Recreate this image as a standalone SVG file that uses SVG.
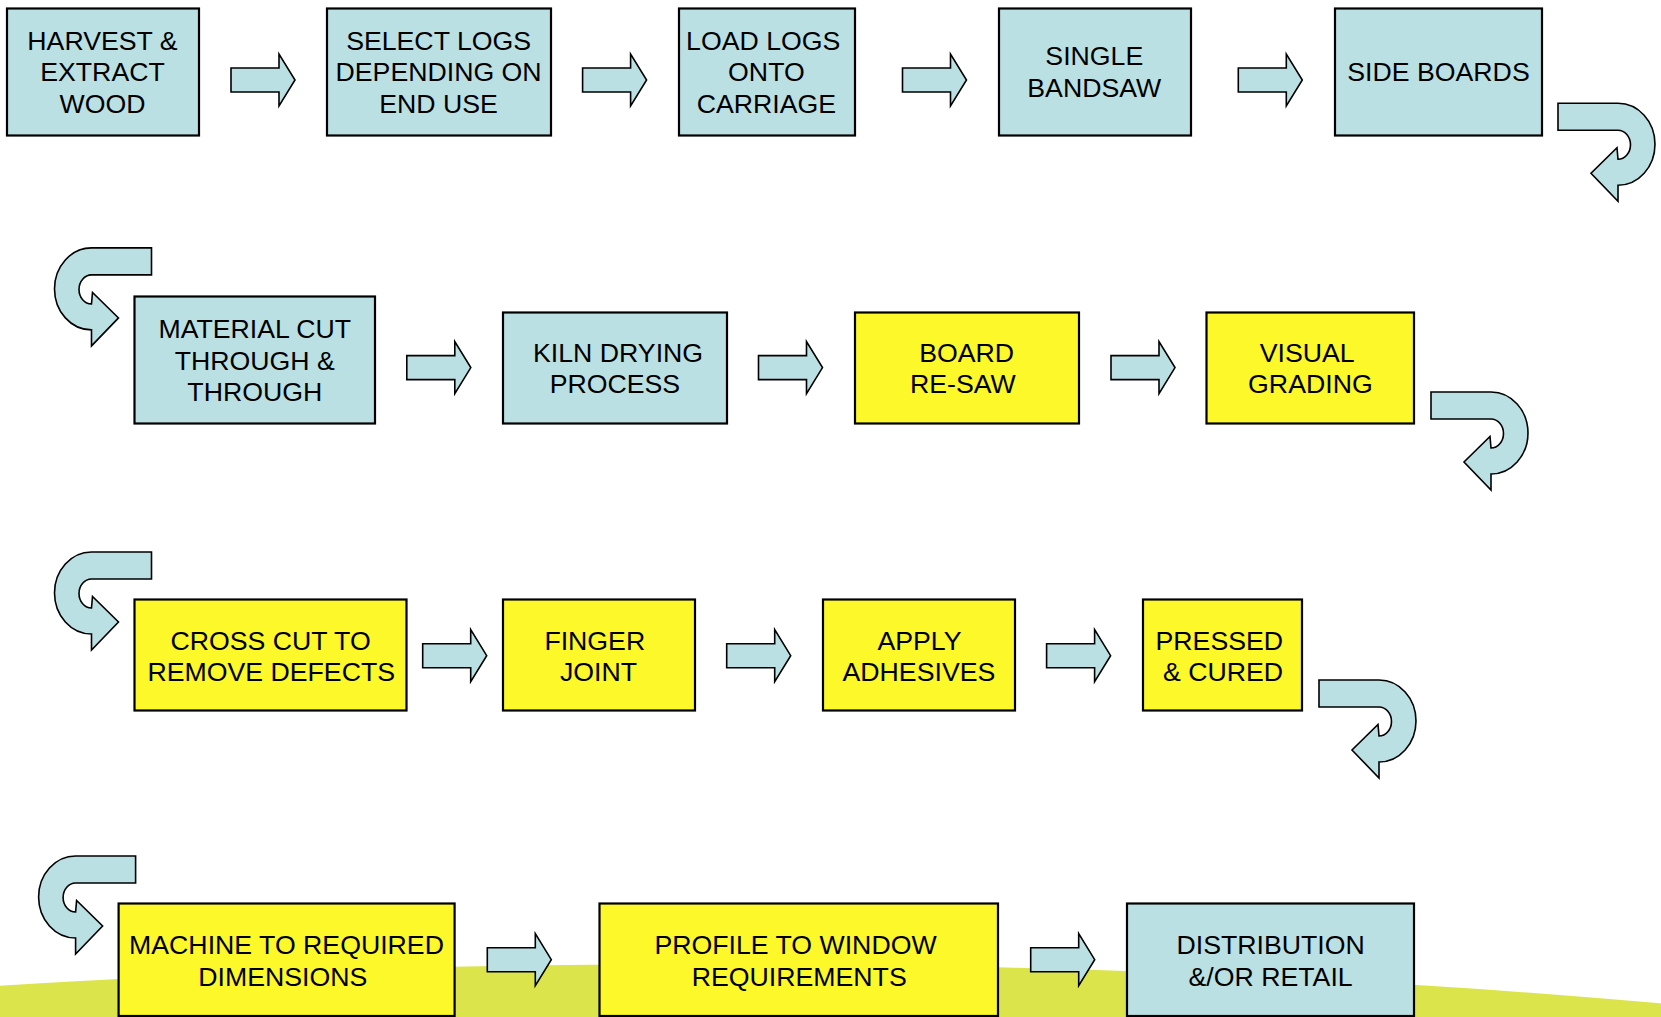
<svg xmlns="http://www.w3.org/2000/svg" xmlns:xlink="http://www.w3.org/1999/xlink" width="1661" height="1017" viewBox="0 0 1661 1017">
<style>
.blue{fill:#BBE0E3;stroke:#000;stroke-width:2.2}
.yel{fill:#FCF82A;stroke:#000;stroke-width:2.2}
.arr{fill:#BBE0E3;stroke:#000;stroke-width:1.6;stroke-linejoin:miter}
text{font-family:"Liberation Sans",Arial,sans-serif;font-size:26.7px;fill:#000;text-anchor:middle}
</style>
<defs>
<path id="sa" d="M0,-12 H48 V-26 L64,0 L48,26 V12 H0 Z"/>
<path id="ut" d="M0,0 H60 A37,41 0 0 1 60,82 V98 L33,70 L59,44.5 L60,56 A12.5,14.5 0 0 0 60,27 H0 Z"/>
</defs>
<rect width="1661" height="1017" fill="#fff"/>
<ellipse cx="714" cy="1293.6" rx="2000" ry="329.6" fill="#DCE44C"/>

<g id="connectors">
<use xlink:href="#sa" class="arr" transform="translate(231,80)"/>
<use xlink:href="#sa" class="arr" transform="translate(582.6,80)"/>
<use xlink:href="#sa" class="arr" transform="translate(902.5,80)"/>
<use xlink:href="#sa" class="arr" transform="translate(1238.3,80)"/>
<use xlink:href="#ut" class="arr" transform="translate(1558,103.3)"/>
<use xlink:href="#ut" class="arr" transform="translate(151.5,247.9) scale(-1,1)"/>
<use xlink:href="#sa" class="arr" transform="translate(406.8,367.6)"/>
<use xlink:href="#sa" class="arr" transform="translate(758.5,367.6)"/>
<use xlink:href="#sa" class="arr" transform="translate(1111,367.6)"/>
<use xlink:href="#ut" class="arr" transform="translate(1431,392)"/>
<use xlink:href="#ut" class="arr" transform="translate(151.5,552) scale(-1,1)"/>
<use xlink:href="#sa" class="arr" transform="translate(422.7,655.7)"/>
<use xlink:href="#sa" class="arr" transform="translate(726.7,655.7)"/>
<use xlink:href="#sa" class="arr" transform="translate(1046.6,655.7)"/>
<use xlink:href="#ut" class="arr" transform="translate(1319,680)"/>
<use xlink:href="#ut" class="arr" transform="translate(135.6,856) scale(-1,1)"/>
<use xlink:href="#sa" class="arr" transform="translate(487.3,959.7)"/>
<use xlink:href="#sa" class="arr" transform="translate(1030.7,959.7)"/>
</g>

<g id="harvest">
<rect class="blue" x="7" y="8.5" width="192" height="127"/>
<text x="102.5" y="49.5">HARVEST &amp;</text>
<text x="102.5" y="81.2">EXTRACT</text>
<text x="102.5" y="112.9">WOOD</text>
</g>
<g id="select-logs">
<rect class="blue" x="327" y="8.5" width="224" height="127"/>
<text x="438.6" y="49.5">SELECT LOGS</text>
<text x="438.6" y="81.2">DEPENDING ON</text>
<text x="438.6" y="112.9">END USE</text>
</g>
<g id="load-logs">
<rect class="blue" x="679" y="8.5" width="176" height="127"/>
<text x="763.2" y="49.5">LOAD LOGS</text>
<text x="766.4" y="81.2">ONTO</text>
<text x="766.4" y="112.9">CARRIAGE</text>
</g>
<g id="single-bandsaw">
<rect class="blue" x="999" y="8.5" width="192" height="127"/>
<text x="1094.3" y="65.4">SINGLE</text>
<text x="1094.3" y="97.1">BANDSAW</text>
</g>
<g id="side-boards">
<rect class="blue" x="1335" y="8.5" width="207" height="127"/>
<text x="1438.5" y="81.3">SIDE BOARDS</text>
</g>

<g id="material-cut">
<rect class="blue" x="134.5" y="296.5" width="240.5" height="127"/>
<text x="254.8" y="338">MATERIAL CUT</text>
<text x="254.8" y="369.7">THROUGH &amp;</text>
<text x="254.8" y="401.4">THROUGH</text>
</g>
<g id="kiln-drying">
<rect class="blue" x="503" y="312.5" width="224" height="111"/>
<text x="618.1" y="361.5">KILN DRYING</text>
<text x="614.9" y="393.2">PROCESS</text>
</g>
<g id="board-resaw">
<rect class="yel" x="855" y="312.5" width="224" height="111"/>
<text x="966.6" y="361.5">BOARD</text>
<text x="962.9" y="393.2">RE-SAW</text>
</g>
<g id="visual-grading">
<rect class="yel" x="1206.5" y="312.5" width="207.5" height="111"/>
<text x="1307.2" y="361.5">VISUAL</text>
<text x="1310.4" y="393.2">GRADING</text>
</g>

<g id="cross-cut">
<rect class="yel" x="134.5" y="599.5" width="272" height="111"/>
<text x="270.6" y="649.5">CROSS CUT TO</text>
<text x="271.2" y="681.2">REMOVE DEFECTS</text>
</g>
<g id="finger-joint">
<rect class="yel" x="503" y="599.5" width="192" height="111"/>
<text x="594.8" y="649.5">FINGER</text>
<text x="598.5" y="681.2">JOINT</text>
</g>
<g id="apply-adhesives">
<rect class="yel" x="823" y="599.5" width="192" height="111"/>
<text x="919.5" y="649.5">APPLY</text>
<text x="918.9" y="681.2">ADHESIVES</text>
</g>
<g id="pressed-cured">
<rect class="yel" x="1143" y="599.5" width="159" height="111"/>
<text x="1219.3" y="649.5">PRESSED</text>
<text x="1223" y="681.2">&amp; CURED</text>
</g>

<g id="machine">
<rect class="yel" x="118.6" y="903.5" width="336" height="112.5"/>
<text x="286.5" y="954.2">MACHINE TO REQUIRED</text>
<text x="282.8" y="986">DIMENSIONS</text>
</g>
<g id="profile">
<rect class="yel" x="599.5" y="903.5" width="398.5" height="112.5"/>
<text x="795.5" y="954.2">PROFILE TO WINDOW</text>
<text x="799.2" y="986">REQUIREMENTS</text>
</g>
<g id="distribution">
<rect class="blue" x="1127" y="903.5" width="287" height="112.5"/>
<text x="1270.6" y="954.2">DISTRIBUTION</text>
<text x="1270.6" y="986">&amp;/OR RETAIL</text>
</g>
</svg>
